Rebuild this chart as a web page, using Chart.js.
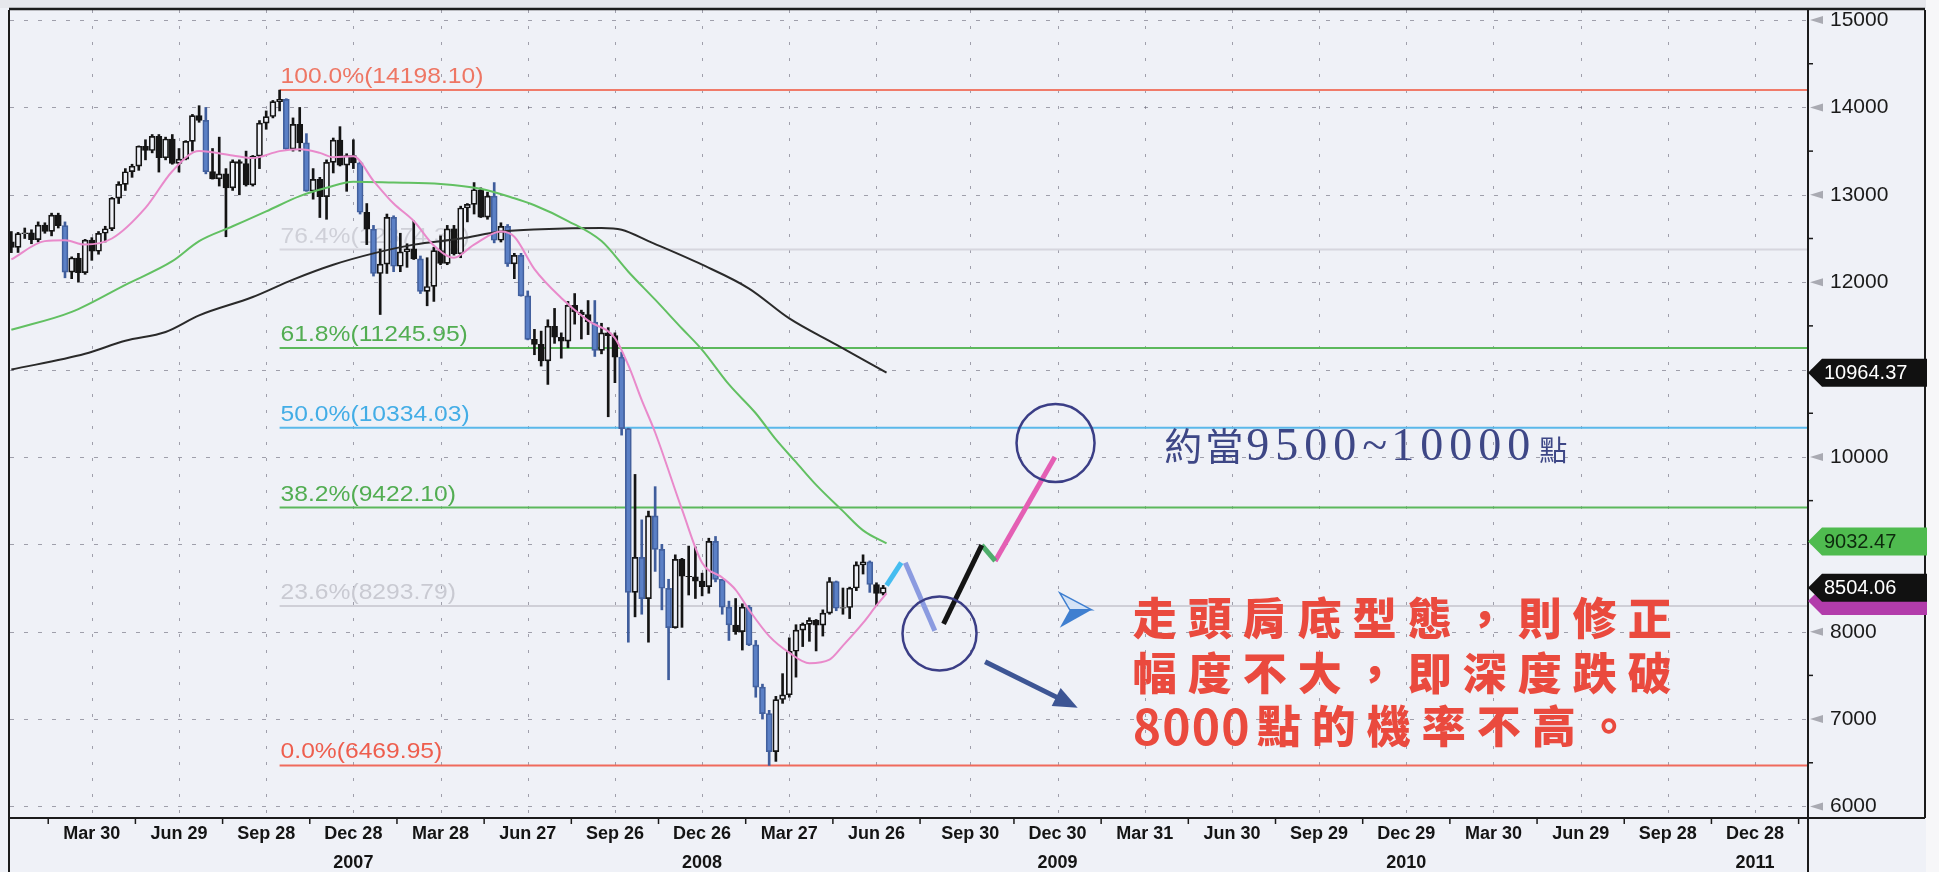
<!DOCTYPE html>
<html lang="zh-Hant">
<head>
<meta charset="utf-8">
<title>Weekly chart with Fibonacci levels</title>
<script src="https://cdn.jsdelivr.net/npm/chart.js@4.4.1/dist/chart.umd.min.js"></script>
<style>
  html, body { margin: 0; padding: 0; background: #eff1f7; overflow: hidden; }
  canvas { display: block; }
</style>
</head>
<body>
<canvas id="chart" width="1939" height="872"></canvas>
<script>
// Weekly candles, index 0 = week ending Jan 5 2007 (one step = one week)
const OPEN = [
  12463, 12398, 12556, 12566, 12487, 12653, 12581, 12768, 12647, 12114,
  12277, 12110, 12481, 12354, 12560, 12612, 12961, 13120, 13264, 13327,
  13556, 13507, 13668, 13424, 13639, 13360, 13408, 13611, 13907, 13851,
  13265, 13182, 13239, 13079, 13379, 13358, 13113, 13442, 13820, 13896,
  14066, 14093, 13522, 13806, 13595, 13042, 13176, 12980, 13372, 13625,
  13339, 13450, 13365, 12800, 12606, 12099, 12207, 12743, 12182, 12348,
  12381, 12266, 11894, 11951, 12361, 12216, 12610, 12325, 12849, 12891,
  13058, 12745, 12986, 12480, 12638, 12209, 12307, 11843, 11346, 11288,
  11100, 11496, 11370, 11326, 11734, 11659, 11628, 11544, 11220, 11421,
  11388, 11143, 10325, 8451, 8852, 8378, 9325, 8943, 8497, 8046,
  8829, 8635, 8629, 8579, 8515, 9034, 8599, 8281, 8077, 8001,
  8280, 7850, 7365, 7062, 6627, 7224, 7278, 7776, 8018, 8083,
  8131, 8076, 8212, 8575, 8268, 8277, 8500, 8764, 8799, 8540,
  8438
];
const HIGH = [
  12580, 12570, 12620, 12600, 12690, 12680, 12790, 12790, 12690, 12290,
  12330, 12490, 12510, 12580, 12640, 12970, 13150, 13300, 13350, 13560,
  13630, 13690, 13690, 13660, 13690, 13530, 13620, 13920, 14020, 14000,
  13530, 13660, 13300, 13400, 13400, 13500, 13450, 13850, 13960, 14080,
  14198.1, 14100, 13880, 14000, 13700, 13300, 13200, 13400, 13650, 13780,
  13470, 13630, 13380, 12900, 12650, 12380, 12780, 12760, 12560, 12440,
  12700, 12300, 12280, 12400, 12530, 12650, 12650, 12870, 12900, 13140,
  13080, 13030, 13140, 12680, 12660, 12330, 12330, 11900, 11460, 11440,
  11570, 11700, 11420, 11780, 11870, 11680, 11790, 11790, 11530, 11480,
  11420, 11200, 10330, 9800, 9280, 9380, 9660, 9000, 8600, 8880,
  8840, 8980, 8970, 8670, 9070, 9090, 8600, 8350, 8380, 8320,
  8300, 7900, 7400, 7100, 7260, 7520, 7930, 8080, 8100, 8160,
  8140, 8250, 8620, 8580, 8500, 8510, 8800, 8880, 8810, 8560,
  8530
];
const LOW = [
  12338, 12340, 12500, 12440, 12460, 12560, 12530, 12620, 12050, 12040,
  12000, 12090, 12250, 12320, 12460, 12590, 12900, 13050, 13200, 13280,
  13400, 13480, 13260, 13400, 13350, 13260, 13400, 13500, 13830, 13240,
  13180, 13100, 12520, 13050, 13000, 13100, 13100, 13300, 13750, 13880,
  13960, 13520, 13500, 13500, 13040, 12950, 12740, 12720, 13250, 13330,
  13040, 13300, 12780, 12430, 12070, 11630, 12100, 12120, 12120, 12170,
  12260, 11870, 11730, 11780, 12200, 12200, 12310, 12280, 12690, 12780,
  12740, 12720, 12450, 12460, 12180, 12040, 11840, 11340, 11170, 11040,
  10830, 11300, 11130, 11250, 11520, 11350, 11400, 11150, 11180, 10460,
  10850, 10250, 7880, 8170, 8200, 7880, 8690, 8250, 7450, 8040,
  8050, 8420, 8380, 8410, 8440, 8570, 8200, 7900, 7970, 7790,
  7840, 7250, 7000, 6469.95, 6516, 7180, 7250, 7480, 7830, 7890,
  7780, 7950, 8200, 8240, 8200, 8150, 8470, 8660, 8450, 8300,
  8420
];
const CLOSE = [
  12398, 12556, 12566, 12487, 12653, 12581, 12768, 12647, 12114, 12277,
  12110, 12481, 12354, 12560, 12612, 12961, 13120, 13264, 13327, 13556,
  13507, 13668, 13424, 13639, 13360, 13408, 13611, 13907, 13851, 13265,
  13182, 13239, 13079, 13379, 13358, 13113, 13442, 13820, 13896, 14066,
  14093, 13522, 13806, 13595, 13042, 13176, 12980, 13372, 13625, 13339,
  13450, 13365, 12800, 12606, 12099, 12207, 12743, 12182, 12348, 12381,
  12266, 11894, 11951, 12361, 12216, 12610, 12325, 12849, 12891, 13058,
  12745, 12986, 12480, 12638, 12209, 12307, 11843, 11346, 11288, 11100,
  11496, 11370, 11326, 11734, 11659, 11628, 11544, 11220, 11421, 11388,
  11143, 10325, 8451, 8852, 8378, 9325, 8943, 8497, 8046, 8829,
  8635, 8629, 8579, 8515, 9034, 8599, 8281, 8077, 8001, 8280,
  7850, 7365, 7062, 6627, 7224, 7278, 7776, 8018, 8083, 8131,
  8076, 8212, 8575, 8268, 8277, 8500, 8764, 8799, 8540, 8438,
  8504
];

// moving averages (week index, value)
const PINK_X = [0, 5, 8, 11, 15, 20, 24, 28, 33, 36, 40, 43, 46, 48, 51, 54, 57, 60, 63, 66, 69, 73, 75, 78, 82, 86, 90, 92, 94, 96, 100, 103, 106, 108, 110, 113, 116, 119, 122, 124, 127, 129, 130.5];
const PINK_Y = [12260, 12470, 12480, 12430, 12500, 12850, 13270, 13500, 13450, 13420, 13500, 13520, 13480, 13430, 13440, 13160, 12900, 12700, 12420, 12280, 12430, 12580, 12520, 12150, 11820, 11560, 11360, 11050, 10650, 10280, 9400, 8790, 8620, 8480, 8250, 7950, 7760, 7640, 7680, 7840, 8100, 8300, 8440];
const GREEN_X = [0, 9, 17, 24, 28, 33, 38, 43, 47, 51, 57, 64, 70, 75, 78, 83, 88, 92, 96, 100, 103, 107, 111, 114, 117, 120, 124, 127, 130.5];
const GREEN_Y = [11455, 11660, 11970, 12240, 12470, 12640, 12810, 12985, 13080, 13150, 13140, 13125, 13070, 12960, 12880, 12700, 12470, 12120, 11800, 11470, 11226, 10830, 10500, 10200, 9940, 9680, 9380, 9160, 9010];
const BLACK_X = [0, 11, 17, 23, 28, 36, 42, 48, 54, 60, 67, 73, 79, 88, 91, 95, 103, 110, 116, 123, 130.5];
const BLACK_Y = [11000, 11180, 11330, 11430, 11620, 11830, 12030, 12200, 12330, 12430, 12500, 12580, 12606, 12620, 12600, 12470, 12200, 11927, 11585, 11285, 10965];

// hand-drawn projection path
const PATH_X = [130.5, 132.7, 133.3, 137.7, 139.0, 144.7, 146.7, 155.6];
const PATH_Y = [8530, 8790, 8790, 8010, 8090, 8990, 8810, 10000];
const RING_X = [138.4, 155.7];
const RING_Y = [7980, 10160];

// Fibonacci retracement
const FIB_START = 40;
const FIB_LEVELS = [14198.10, 12374.32, 11245.95, 10334.03, 9422.10, 8293.79, 6469.95];
const FIB_TEXT = ["100.0%(14198.10)", "76.4%(12374.32)", "61.8%(11245.95)", "50.0%(10334.03)", "38.2%(9422.10)", "23.6%(8293.79)", "0.0%(6469.95)"];

// axes
const X_TICKS = [12, 25, 38, 51, 64, 77, 90, 103, 116, 129, 143, 156, 169, 182, 195, 208, 221, 234, 247, 260];
const X_LABELS = ["Mar 30", "Jun 29", "Sep 28", "Dec 28", "Mar 28", "Jun 27", "Sep 26", "Dec 26", "Mar 27", "Jun 26",
                  "Sep 30", "Dec 30", "Mar 31", "Jun 30", "Sep 29", "Dec 29", "Mar 30", "Jun 29", "Sep 28", "Dec 28"];
const YEAR_AT = { 51: "2007", 103: "2008", 156: "2009", 208: "2010", 260: "2011" };
const Y_TICKS = [6000, 7000, 8000, 9000, 10000, 11000, 12000, 13000, 14000, 15000];
const Y_MINOR = [6500, 7500, 8500, 9500, 10500, 11500, 12500, 13500, 14500];
const TAG_VALUES = [10964.37, 9032.47, 8504.06];
const TAG_PINK = 8350;

// annotations
const NOTE_BLUE_AT = [171.9, 10125];
const NOTE_RED_AT = [167.2, 8157, 7527, 6921];
const NOTE_RED = ["走頭肩底型態，則修正", "幅度不大，即深度跌破", "點的機率不高。"];
const ARROW_FROM = [145.2, 7657];
const ARROW_TO = [159.0, 7131];
const PLANE_AT = [161.1, 8250];

const X_MIN = -0.2, X_MAX = 267.9, Y_MIN = 5868, Y_MAX = 15115;
const BG = "#eff1f7";

const FIB_COLORS = ["#f07b6a", "#d6d6de", "#5cb85c", "#5ab8ea", "#5cb85c", "#cfcfd7", "#f06a5c"];
const FIB_TEXT_COLORS = ["#ee7664", "#cfd0d8", "#52ad52", "#43ade6", "#52ad52", "#c9cad2", "#ee5e4e"];

// hollow = up week, black = small down week, blue = large down week
const kind = CLOSE.map((c, i) => c >= OPEN[i] ? "up" : (OPEN[i] - c) / OPEN[i] > 0.024 ? "big" : "down");
const FILL = { up: BG, down: "#161616", big: "#5b80c6" };
const EDGE = { up: "#141414", down: "#141414", big: "#42609e" };
const WICK = { up: "#141414", down: "#141414", big: "#3f5d9c" };

const xy = (xs, ys) => xs.map((x, i) => ({ x, y: ys[i] }));
const seg = (a, b) => [{ x: PATH_X[a], y: PATH_Y[a] }, { x: PATH_X[b], y: PATH_Y[b] }];

const datasets = [];
FIB_LEVELS.forEach((lv, i) => datasets.push({
  type: "line", data: [{ x: FIB_START, y: lv }, { x: X_MAX, y: lv }],
  borderColor: FIB_COLORS[i], borderWidth: 2, pointRadius: 0, order: 20
}));
datasets.push({
  type: "bar", label: "wick", grouped: false, barThickness: 2,
  data: LOW.map((l, i) => ({ x: i, y: [l, HIGH[i]] })),
  backgroundColor: kind.map(k => WICK[k]), borderWidth: 0, order: 12
});
datasets.push({
  type: "bar", label: "body", grouped: false, barThickness: 6, borderSkipped: false, borderWidth: 1.7,
  data: OPEN.map((o, i) => ({ x: i, y: [o, CLOSE[i]] })),
  backgroundColor: kind.map(k => FILL[k]),
  borderColor: kind.map(k => EDGE[k]), order: 11
});
datasets.push({ type: "line", data: xy(BLACK_X, BLACK_Y), borderColor: "#2a2a2a", borderWidth: 2, pointRadius: 0, cubicInterpolationMode: "monotone", order: 8 });
datasets.push({ type: "line", data: xy(GREEN_X, GREEN_Y), borderColor: "#62c062", borderWidth: 2, pointRadius: 0, cubicInterpolationMode: "monotone", order: 7 });
datasets.push({ type: "line", data: xy(PINK_X, PINK_Y), borderColor: "#e98acb", borderWidth: 2, pointRadius: 0, cubicInterpolationMode: "monotone", order: 6 });
[[0, 1, "#45bdf0"], [2, 3, "#8b9be0"], [4, 5, "#141414"], [5, 6, "#4fae6c"], [6, 7, "#e45fb4"]].forEach(([a, b, c]) =>
  datasets.push({ type: "line", data: seg(a, b), borderColor: c, borderWidth: 5, pointRadius: 0, borderCapStyle: "butt", order: 4 }));
datasets.push({
  type: "scatter", data: xy(RING_X, RING_Y), showLine: false, order: 3,
  pointRadius: [37, 39], pointBorderWidth: 2.5, pointBorderColor: "#3b3e86", pointBackgroundColor: "rgba(0,0,0,0)"
});

function drawSpaced(ctx, str, x, y, pitch) {
  for (const ch of str) { ctx.fillText(ch, x, y); x += pitch; }
  return x;
}

const decor = {
  id: "decor",
  beforeDraw(chart) {
    const { ctx, width, height } = chart;
    ctx.save();
    ctx.fillStyle = BG;
    ctx.fillRect(0, 0, width, height);
    ctx.fillStyle = "#e6e7ec";
    ctx.fillRect(0, 0, width, 8);
    ctx.restore();
  },
  beforeDatasetsDraw(chart) {
    const { ctx, chartArea: a, scales: { x, y } } = chart;
    ctx.save();
    ctx.strokeStyle = "rgba(105,105,120,0.6)";
    ctx.lineWidth = 1;
    ctx.setLineDash([4, 10]);
    Y_TICKS.forEach(v => {
      const py = Math.round(y.getPixelForValue(v)) + 0.5;
      ctx.beginPath(); ctx.moveTo(a.left, py); ctx.lineTo(a.right, py); ctx.stroke();
    });
    ctx.setLineDash([3, 13]);
    X_TICKS.forEach(v => {
      const px = Math.round(x.getPixelForValue(v)) + 0.5;
      ctx.beginPath(); ctx.moveTo(px, a.top); ctx.lineTo(px, a.bottom); ctx.stroke();
    });
    ctx.setLineDash([]);
    // fib labels sit behind the candles (scanned font is a little wide)
    ctx.font = '22px "Liberation Sans", Arial, sans-serif';
    ctx.textBaseline = "bottom";
    ctx.textAlign = "left";
    FIB_LEVELS.forEach((lv, i) => {
      ctx.save();
      ctx.translate(x.getPixelForValue(FIB_START) + 1, y.getPixelForValue(lv) - 2);
      ctx.scale(1.12, 1);
      ctx.fillStyle = FIB_TEXT_COLORS[i];
      ctx.fillText(FIB_TEXT[i], 0, 0);
      ctx.restore();
    });
    ctx.restore();
  },
  afterDraw(chart) {
    const { ctx, chartArea: a, scales: { x, y }, height } = chart;
    const panelR = a.right + 117;
    ctx.save();
    // frame
    ctx.strokeStyle = "#1b1b1b";
    ctx.lineWidth = 2.5;
    ctx.beginPath(); ctx.moveTo(a.left - 1, a.top - 1); ctx.lineTo(panelR, a.top - 1); ctx.stroke();
    ctx.lineWidth = 2;
    ctx.beginPath(); ctx.moveTo(a.left - 1, a.top); ctx.lineTo(a.left - 1, height); ctx.stroke();
    ctx.beginPath(); ctx.moveTo(a.right, a.top); ctx.lineTo(a.right, height); ctx.stroke();
    ctx.beginPath(); ctx.moveTo(panelR, a.top); ctx.lineTo(panelR, a.bottom); ctx.stroke();
    ctx.beginPath(); ctx.moveTo(a.left - 1, a.bottom); ctx.lineTo(panelR, a.bottom); ctx.stroke();
    ctx.fillStyle = "#f7f7f9";
    ctx.fillRect(panelR + 1, 0, chart.width - panelR, height);
    // x-axis tick marks between labels
    ctx.lineWidth = 1.5;
    const mids = [X_TICKS[0] - 6.5].concat(X_TICKS.map(v => v + 6.5));
    mids.forEach(v => {
      const px = x.getPixelForValue(v);
      if (px < a.left || px > a.right) return;
      ctx.beginPath(); ctx.moveTo(px, a.bottom); ctx.lineTo(px, a.bottom + 6); ctx.stroke();
    });
    // right axis: minor ticks and gray markers
    Y_MINOR.forEach(v => {
      const py = y.getPixelForValue(v);
      ctx.beginPath(); ctx.moveTo(a.right, py); ctx.lineTo(a.right + 5, py); ctx.stroke();
    });
    ctx.fillStyle = "#a9aab2";
    Y_TICKS.forEach(v => {
      const py = y.getPixelForValue(v);
      ctx.beginPath(); ctx.moveTo(a.right + 2, py); ctx.lineTo(a.right + 15, py - 4); ctx.lineTo(a.right + 15, py + 4); ctx.closePath(); ctx.fill();
    });
    // value tags
    const tag = (v, bg, fg, text) => {
      const py = y.getPixelForValue(v), l = a.right;
      ctx.beginPath();
      ctx.moveTo(l, py); ctx.lineTo(l + 14, py - 14); ctx.lineTo(l + 119, py - 14);
      ctx.lineTo(l + 119, py + 14); ctx.lineTo(l + 14, py + 14); ctx.closePath();
      ctx.fillStyle = bg; ctx.fill();
      if (text) {
        ctx.fillStyle = fg;
        ctx.font = '20px "Liberation Sans", Arial, sans-serif';
        ctx.textBaseline = "middle"; ctx.textAlign = "left";
        ctx.fillText(text, l + 16, py + 1);
      }
    };
    tag(TAG_VALUES[0], "#111111", "#ffffff", TAG_VALUES[0].toFixed(2));
    tag(TAG_VALUES[1], "#4fbb4f", "#0d2a0d", TAG_VALUES[1].toFixed(2));
    tag(TAG_PINK, "#b23cab", "#ffffff", "");
    tag(TAG_VALUES[2], "#111111", "#ffffff", TAG_VALUES[2].toFixed(2));

    // arrow pointing down-right
    const ax0 = x.getPixelForValue(ARROW_FROM[0]), ay0 = y.getPixelForValue(ARROW_FROM[1]);
    const ax1 = x.getPixelForValue(ARROW_TO[0]), ay1 = y.getPixelForValue(ARROW_TO[1]);
    const ang = Math.atan2(ay1 - ay0, ax1 - ax0);
    ctx.strokeStyle = "#3d5594"; ctx.fillStyle = "#3d5594"; ctx.lineWidth = 5;
    ctx.beginPath(); ctx.moveTo(ax0, ay0);
    ctx.lineTo(ax1 - 18 * Math.cos(ang), ay1 - 18 * Math.sin(ang)); ctx.stroke();
    ctx.beginPath(); ctx.moveTo(ax1, ay1);
    ctx.lineTo(ax1 - 24 * Math.cos(ang) + 10 * Math.sin(ang), ay1 - 24 * Math.sin(ang) - 10 * Math.cos(ang));
    ctx.lineTo(ax1 - 24 * Math.cos(ang) - 10 * Math.sin(ang), ay1 - 24 * Math.sin(ang) + 10 * Math.cos(ang));
    ctx.closePath(); ctx.fill();

    // paper-plane arrowhead
    const tx = x.getPixelForValue(PLANE_AT[0]), ty = y.getPixelForValue(PLANE_AT[1]);
    ctx.beginPath(); ctx.moveTo(tx, ty); ctx.lineTo(tx - 32, ty - 17); ctx.lineTo(tx - 22, ty); ctx.closePath();
    ctx.fillStyle = "#d4e3f6"; ctx.fill(); ctx.strokeStyle = "#3f7fd0"; ctx.lineWidth = 1.5; ctx.stroke();
    ctx.beginPath(); ctx.moveTo(tx, ty); ctx.lineTo(tx - 22, ty); ctx.lineTo(tx - 32, ty + 18); ctx.closePath();
    ctx.fillStyle = "#3f7fd0"; ctx.fill();

    // navy note
    let nx = x.getPixelForValue(NOTE_BLUE_AT[0]);
    const ny = y.getPixelForValue(NOTE_BLUE_AT[1]);
    ctx.fillStyle = "#3e4786";
    ctx.textAlign = "left"; ctx.textBaseline = "middle";
    ctx.font = '38px "Noto Sans CJK TC", sans-serif';
    nx = drawSpaced(ctx, "約當", nx, ny, 41);
    ctx.font = '46px "Liberation Serif", "DejaVu Serif", serif';
    nx = drawSpaced(ctx, "9500~10000", nx, ny + 2, 29);
    ctx.font = '28px "Noto Sans CJK TC", sans-serif';
    ctx.fillText("點", nx + 3, ny + 4);

    // red note
    const rx = x.getPixelForValue(NOTE_RED_AT[0]);
    ctx.fillStyle = "#ea4a3e";
    ctx.font = '900 44px "Noto Sans CJK TC", sans-serif';
    drawSpaced(ctx, NOTE_RED[0], rx, y.getPixelForValue(NOTE_RED_AT[1]), 55);
    drawSpaced(ctx, NOTE_RED[1], rx, y.getPixelForValue(NOTE_RED_AT[2]), 55);
    const r3 = y.getPixelForValue(NOTE_RED_AT[3]);
    ctx.font = 'bold 48px "Noto Sans CJK TC", sans-serif';
    const dx = drawSpaced(ctx, "8000", rx, r3 + 1, 29.5);
    ctx.font = '900 44px "Noto Sans CJK TC", sans-serif';
    drawSpaced(ctx, NOTE_RED[2], dx + 6, r3, 55);
    ctx.restore();
  }
};

new Chart(document.getElementById("chart"), {
  type: "bar",
  data: { datasets },
  options: {
    responsive: false, animation: false, events: [],
    layout: { autoPadding: false, padding: { left: 10, top: 10, right: 0, bottom: 0 } },
    plugins: { legend: { display: false }, tooltip: { enabled: false } },
    scales: {
      x: {
        type: "linear", min: X_MIN, max: X_MAX, offset: false,
        grid: { display: false, drawTicks: false, offset: false }, border: { display: false },
        afterBuildTicks: s => { s.ticks = X_TICKS.map(v => ({ value: v })); },
        afterFit: s => { s.height = 54; s.paddingLeft = 0; s.paddingRight = 0; },
        ticks: {
          autoSkip: false, maxRotation: 0, minRotation: 0, padding: 2, color: "#141414",
          font: { family: "Liberation Sans", size: 18, weight: "bold", lineHeight: "29px" },
          callback: v => {
            const lab = X_LABELS[X_TICKS.indexOf(v)];
            return YEAR_AT[v] ? [lab, YEAR_AT[v]] : lab;
          }
        }
      },
      y: {
        type: "linear", position: "right", min: Y_MIN, max: Y_MAX,
        grid: { display: false, drawTicks: false }, border: { display: false },
        afterBuildTicks: s => { s.ticks = Y_TICKS.map(v => ({ value: v })); },
        afterFit: s => { s.width = 131; s.paddingTop = 0; s.paddingBottom = 0; },
        ticks: { padding: 22, color: "#1a1a1a", font: { family: "Liberation Sans", size: 21 }, callback: v => String(v) }
      }
    }
  },
  plugins: [decor]
});
</script>
</body>
</html>
